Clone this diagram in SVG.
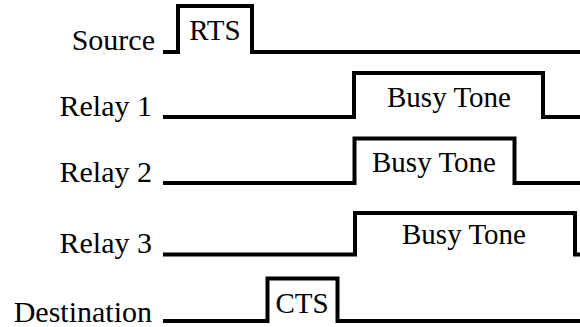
<svg xmlns="http://www.w3.org/2000/svg" width="580" height="327" viewBox="0 0 580 327">
<style>
  text { font-family: "Liberation Serif", "Times New Roman", serif; font-size: 30px; fill: #000; }
  .lbl { text-anchor: end; }
  .box { text-anchor: middle; font-size: 29px; }
  .wave { fill: none; stroke: #000; stroke-width: 4; stroke-linejoin: miter; }
</style>
<rect width="580" height="327" fill="#fff"/>
<g id="source">
  <text class="lbl" x="155" y="50">Source</text>
  <path class="wave" d="M163,52 H178 V6 H252 V52 H580"/>
  <text class="box" x="215" y="40">RTS</text>
</g>
<g id="relay1">
  <text class="lbl" x="152" y="116">Relay 1</text>
  <path class="wave" d="M163,117 H354 V73 H543 V117 H580"/>
  <text class="box" x="449" y="107">Busy Tone</text>
</g>
<g id="relay2">
  <text class="lbl" x="152" y="182">Relay 2</text>
  <path class="wave" d="M163,183 H354.5 V138.5 H514.5 V183 H580"/>
  <text class="box" x="434" y="172">Busy Tone</text>
</g>
<g id="relay3">
  <text class="lbl" x="152" y="253">Relay 3</text>
  <path class="wave" d="M163,254.5 H355 V213 H575 V254.5 H580"/>
  <text class="box" x="464" y="243.5">Busy Tone</text>
</g>
<g id="destination">
  <text class="lbl" x="152" y="322">Destination</text>
  <path class="wave" d="M163,321 H267.5 V278.5 H337.5 V321 H580"/>
  <text class="box" x="302" y="313">CTS</text>
</g>
</svg>
